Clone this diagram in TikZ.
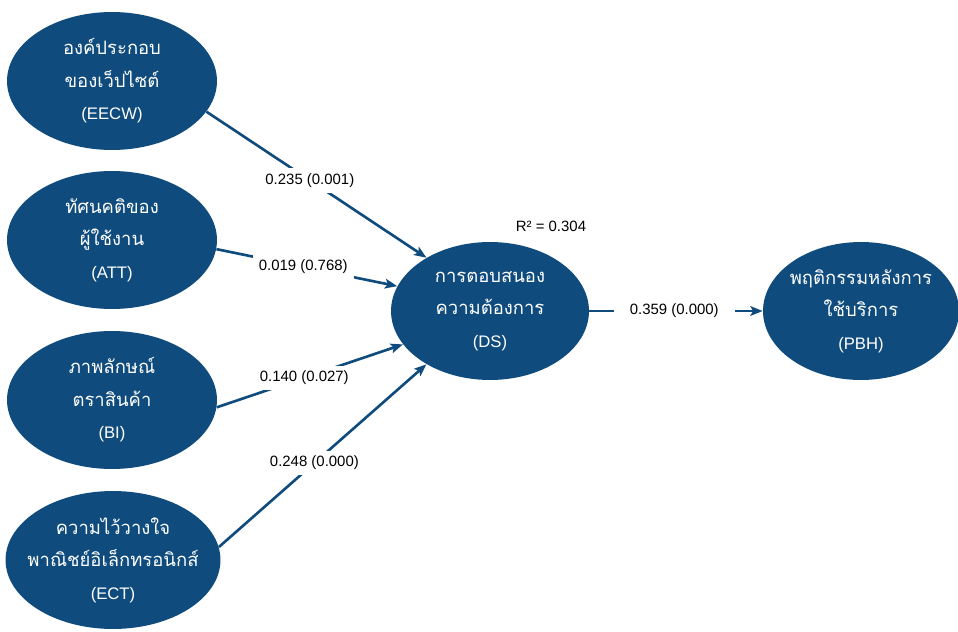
\documentclass[tikz,border=0pt]{standalone}
\usepackage{fontspec}
\setmainfont{Liberation Sans}
\newfontfamily\thaifont[Script=Thai]{Loma}
\usetikzlibrary{arrows.meta,shapes.geometric}
\definecolor{pathblue}{RGB}{15,76,125}
\newcommand{\thai}[1]{{\thaifont\fontsize{10.5}{10.5}\selectfont #1}}

\begin{document}
\begin{tikzpicture}[x=0.02cm, y=-0.02cm,
		blob/.style={ellipse, fill=pathblue, minimum width=4.2cm, minimum height=2.76cm, inner sep=0pt},
		blobtext/.style={text=white, align=center, font=\fontsize{9.5}{18.5}\selectfont},
		link/.style={line width=1.5pt, draw=pathblue, -{Stealth[length=7pt, width=5.5pt, inset=1.5pt]}},
		coef/.style={fill=white, inner xsep=3.5pt, inner ysep=3pt, font=\fontsize{8.5}{10}\selectfont}]
		%%%%% START %%%%%
		
		\useasboundingbox (0, 0) rectangle (958, 632);
		
		\node[blob] (eecw) at (112, 81) {};
		\node[blobtext] at (eecw) {\thai{องค์ประกอบ}\\\thai{ของเว็ปไซต์}\\(EECW)};
		
		\node[blob] (att) at (112, 240) {};
		\node[blobtext] at (att) {\thai{ทัศนคติของ}\\\thai{ผู้ใช้งาน}\\(ATT)};
		
		\node[blob] (bi) at (112, 400) {};
		\node[blobtext] at (bi) {\thai{ภาพลักษณ์}\\\thai{ตราสินค้า}\\(BI)};
		
		\node[blob, minimum width=4.3cm] (ect) at (113, 560) {};
		\node[blobtext] at (ect) {\thai{ความไว้วางใจ}\\\thai{พาณิชย์อิเล็กทรอนิกส์}\\(ECT)};
		
		\node[blob, minimum width=3.96cm] (ds) at (490, 311) {};
		\node[blobtext] at (ds) {\thai{การตอบสนอง}\\\thai{ความต้องการ}\\(DS)};
		\node[font=\fontsize{8.5}{10}\selectfont] (rsq) at (551, 226) {R² = 0.304};
		
		\node[blob, minimum width=3.92cm] (pbh) at (861, 311) {};
		\node[blobtext] at (pbh) {\thai{พฤติกรรมหลังการ}\\\thai{ใช้บริการ}\\(PBH)};
		
		\draw[link] (eecw.-18) -- node[coef, pos=0.47] {0.235 (0.001)} (ds.140);
		\draw[link] (att.-5) -- node[coef, pos=0.48] {0.019 (0.768)} (ds.165);
		\draw[link] (bi.-4) -- node[coef, pos=0.47] {0.140 (0.027)} (ds.201);
		\draw[link] (ect.7) -- node[coef, pos=0.46] {0.248 (0.000)} (ds.220);
		
		\draw[link] (ds.east) -- node[coef, inner xsep=9pt, pos=0.49] {0.359 (0.000)} (pbh.west);
		
		%%%%% END %%%%%
\end{tikzpicture}
\end{document}
